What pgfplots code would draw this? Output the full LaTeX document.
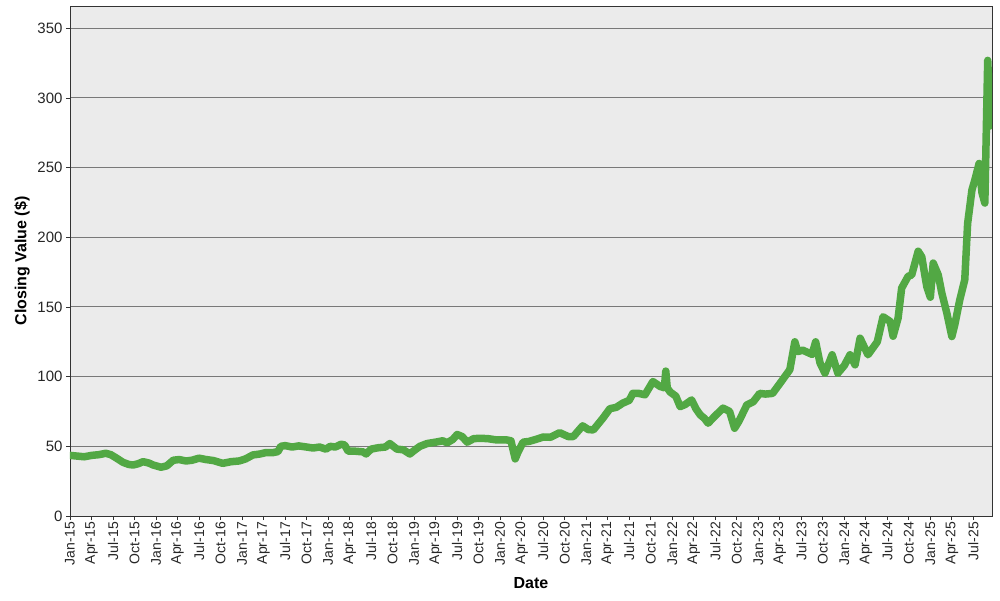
\documentclass[border=0pt]{standalone}
\usepackage{fontspec}
\setmainfont{Liberation Sans}
\usepackage{pgfplots}
\pgfplotsset{compat=1.18}
\definecolor{bg}{HTML}{EBEBEB}
\definecolor{ln}{HTML}{52A844}
\definecolor{gr}{HTML}{787878}
\begin{document}
\begin{tikzpicture}
\useasboundingbox (-70pt,-84pt) rectangle (930pt,516pt);
\begin{axis}[
  scale only axis, width=922pt, height=510pt, at={(0,0)}, anchor=south west,
  xmin=0, xmax=128.6, ymin=0, ymax=366,
  axis background/.style={fill=bg},
  axis line style={draw=black!80, line width=0.8pt},
  ytick={0,50,...,350},
  ymajorgrids, grid style={gr, line width=1pt},
  xtick={0,3,...,126},
  xticklabels={Jan-15,Apr-15,Jul-15,Oct-15,Jan-16,Apr-16,Jul-16,Oct-16,Jan-17,Apr-17,Jul-17,Oct-17,Jan-18,Apr-18,Jul-18,Oct-18,Jan-19,Apr-19,Jul-19,Oct-19,Jan-20,Apr-20,Jul-20,Oct-20,Jan-21,Apr-21,Jul-21,Oct-21,Jan-22,Apr-22,Jul-22,Oct-22,Jan-23,Apr-23,Jul-23,Oct-23,Jan-24,Apr-24,Jul-24,Oct-24,Jan-25,Apr-25,Jul-25},
  tick align=outside, xtick pos=bottom, ytick pos=left,
  major tick length=4pt, tick style={black!80, line width=0.8pt},
  /pgf/number format/assume math mode=true,
  yticklabel style={font=\fontsize{15}{15}\selectfont, text=black!85},
  xticklabel style={font=\fontsize{14}{14}\selectfont, rotate=90, anchor=east, text=black!85, inner sep=2pt},
  xlabel={Date}, ylabel={Closing Value (\$)},
  xlabel style={font=\bfseries\fontsize{16}{16}\selectfont, at={(axis description cs:0.5,-0.131)}, anchor=center},
  ylabel style={font=\bfseries\fontsize{16}{16}\selectfont, at={(axis description cs:-0.052,0.5)}, anchor=center},
]
\addplot[ln, line width=7.5pt, line join=round, line cap=round] coordinates {
(0,43.5) (1,43) (2,42.5) (3,43.5) (4,44) (5,45) (5.7,44) (6.5,41.5) (7.4,38.5) (8.2,37) (8.8,36.6) (9.5,37.5) (10.2,39) (11,38) (11.6,36.6) (12.7,35) (13.5,36) (14.4,40) (15.2,40.5) (16.2,39.5) (17,40) (18,41.5) (19,40.5) (20,39.8) (21.3,37.8) (22.5,39) (23.6,39.5) (24.5,41) (25.5,43.8) (26.5,44.5) (27.3,45.5) (28.3,45.5) (29,46.2) (29.4,50) (30,50.5) (31,49.5) (31.9,50.3) (33,49.5) (33.9,48.8) (34.8,49.5) (35.7,48) (36.3,50) (37,49.5) (37.8,51.5) (38.3,51) (38.8,46.5) (39.8,46.5) (40.9,46) (41.3,44.5) (42,48) (43,49) (44,49.5) (44.6,52) (45.6,48) (46.5,47.5) (47.4,44.5) (48,47) (48.8,50) (49.8,52) (51,53) (52,54) (52.6,52.5) (53.4,55) (54,58.5) (54.7,57) (55.4,53) (56.3,55.5) (57.2,55.8) (58.3,55.5) (59.5,54.6) (60.9,54.6) (61.5,54) (62.1,41) (62.5,46) (63.2,53) (64,53.5) (65,55) (66,56.7) (67,56.5) (68.3,59.8) (69.5,57) (70.2,57) (71.5,64.7) (72.3,62) (73,61.8) (74.3,70) (75.3,77) (76.2,78) (77.1,81) (78,83) (78.5,88) (79.3,88) (80.2,87) (81.3,96.5) (82.3,93) (82.9,92) (83.1,104) (83.3,92) (83.7,89) (84.5,86) (85.1,78.5) (85.8,80) (86.7,83.3) (87.3,77) (87.9,72.6) (88.5,70) (89,66.6) (90,72) (91.1,77.4) (92,75) (92.7,63) (93.3,68) (94.4,79.7) (95.3,82) (96.2,88) (97,87.5) (98,88) (99,95) (100.4,105) (101.1,125) (101.5,118) (102.2,119) (103.5,116) (104,125) (104.6,110) (105.3,102.5) (106.3,115.7) (107.1,102.5) (108,108) (108.8,115.7) (109.5,108.5) (110.2,127.6) (111.3,115.7) (112.6,125) (113.4,143) (114.4,139.6) (114.8,129) (115.5,142) (116,163.6) (116.9,172) (117.4,173) (118.3,190) (118.8,186) (119.5,164.7) (120,157) (120.4,181.5) (121.1,173) (121.6,160) (122.3,145.6) (123,128.8) (123.4,137) (124.1,155) (124.8,169.5) (125.2,210) (125.8,234) (126.2,241) (126.8,253) (127.2,232) (127.6,224.6) (128,327) (128.4,280)
};
\end{axis}
\end{tikzpicture}
\end{document}
